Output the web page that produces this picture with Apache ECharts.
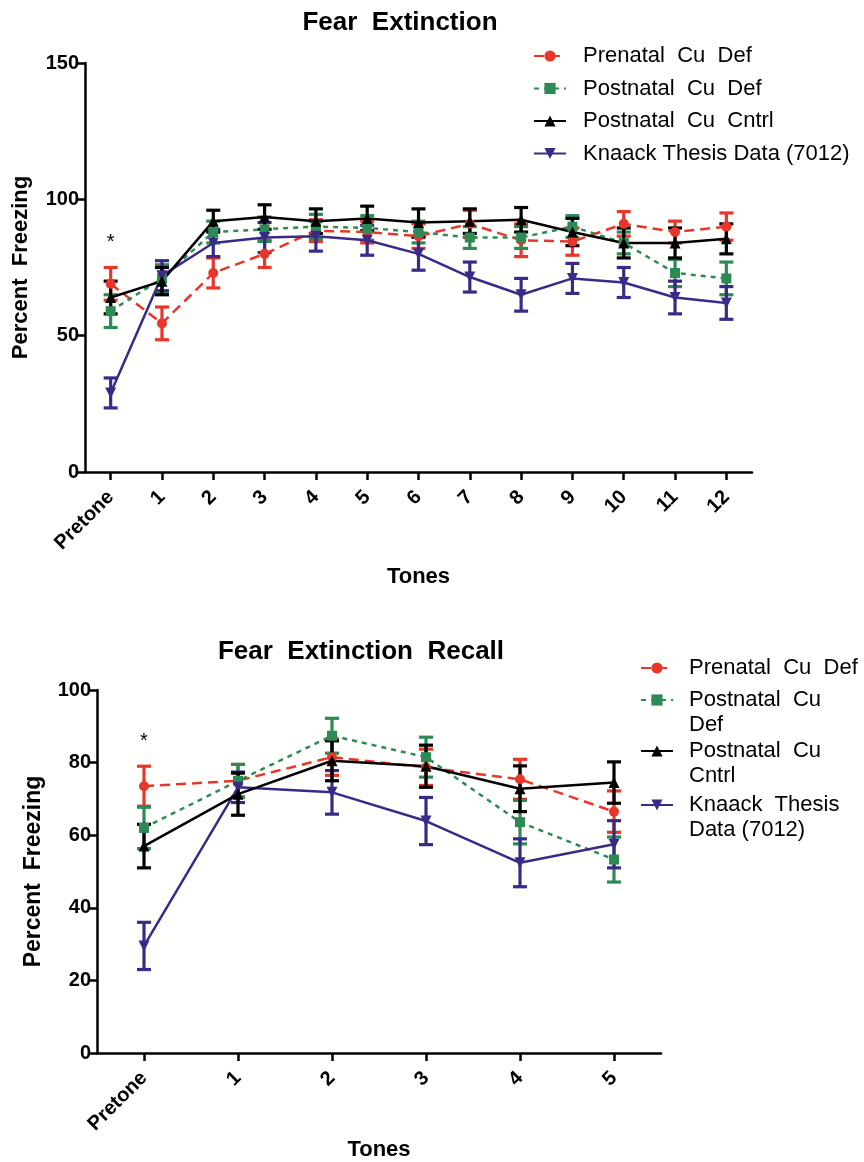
<!DOCTYPE html>
<html><head><meta charset="utf-8">
<script src="https://cdn.jsdelivr.net/npm/echarts@6/dist/echarts.min.js"></script>
<style>html,body{margin:0;padding:0;background:#fffffd}#c{width:864px;height:1162px}</style>
</head><body><div id="c"></div>
<script>
// ---------- data ----------
const topCategories = ['Pretone','1','2','3','4','5','6','7','8','9','10','11','12'];
const topYTicks = [0, 50, 100, 150];
const topPrenatal      = [69, 54.5, 73, 80, 88.5, 88, 86.5, 91, 85, 84.5, 91, 88, 90];
const topPrenatalErr   = [6, 6, 5.5, 5, 4, 4, 4.5, 5, 6, 5, 4.5, 4, 5];
const topPostDef       = [59, 71, 88, 89, 90, 89.5, 88, 86, 86, 90, 84, 73, 71];
const topPostDefErr    = [6, 5, 4, 4.5, 4.5, 4.5, 4, 4, 4, 4, 4, 5, 6];
const topPostCntrl     = [64, 70, 92, 93.5, 92, 93, 91.5, 92, 92.5, 88, 84, 84, 85.5];
const topPostCntrlErr  = [6, 5, 4, 4.5, 4.5, 4.5, 5, 4.5, 4.5, 5, 5.5, 5.5, 5.5];
const topKnaack        = [29, 72, 84, 86, 86.5, 85, 80, 71.5, 65, 71, 69.5, 64, 62];
const topKnaackErr     = [5.5, 5.5, 5, 5.5, 5.5, 5.5, 6, 5.5, 6, 5.5, 5.5, 6, 6];
const topStar = [0, 84];

const botCategories = ['Pretone','1','2','3','4','5'];
const botYTicks = [0, 20, 40, 60, 80, 100];
const botPrenatal      = [73.5, 75, 81.5, 78.7, 75.4, 66.5];
const botPrenatalErr   = [5.5, 4.5, 5, 5, 5.5, 5.7];
const botPostDef       = [62, 75, 87.4, 81.5, 63.6, 53.3];
const botPostDefErr    = [5.7, 4.5, 4.8, 5.5, 6, 6.2];
const botPostCntrl     = [57, 71.3, 80.5, 79, 72.8, 74.5];
const botPostCntrlErr  = [6, 5.8, 5.5, 5.8, 6.3, 5.7];
const botKnaack        = [29.5, 73.2, 71.8, 63.9, 52.4, 57.5];
const botKnaackErr     = [6.5, 4.2, 6, 6.5, 6.6, 6.5];
const botStar = [0, 85.7];

const topNames = ['Prenatal  Cu  Def', 'Postnatal  Cu  Def', 'Postnatal  Cu  Cntrl', 'Knaack Thesis Data (7012)'];
const botNames = ['Prenatal  Cu  Def', 'Postnatal  Cu\nDef', 'Postnatal  Cu\nCntrl', 'Knaack  Thesis\nData (7012)'];

// ---------- styles ----------
const RED = '#e8372a', GREEN = '#2e8a55', BLACK = '#000000', BLUE = '#3a2a88';
const FONT = '"Liberation Sans", Arial, sans-serif';
const INV_TRI = 'path://M0,0 L10,0 L5,9 Z';
const styles = [
  {color: RED,   symbol: 'circle',   size: 10, type: [10, 6]},
  {color: GREEN, symbol: 'rect',     size: 10, type: [5, 5]},
  {color: BLACK, symbol: 'triangle', size: 11, type: 'solid'},
  {color: BLUE,  symbol: INV_TRI,    size: 11, type: 'solid'}
];

function errRender(params, api) {
  const x = api.value(0), lo = api.value(1), hi = api.value(2);
  const p1 = api.coord([x, hi]), p2 = api.coord([x, lo]);
  const w = 7;
  const st = {stroke: api.visual('color'), lineWidth: 3.2};
  return {type: 'group', children: [
    {type: 'line', shape: {x1: p1[0], y1: p1[1], x2: p2[0], y2: p2[1]}, style: st},
    {type: 'line', shape: {x1: p1[0] - w, y1: p1[1], x2: p1[0] + w, y2: p1[1]}, style: st},
    {type: 'line', shape: {x1: p2[0] - w, y1: p2[1], x2: p2[0] + w, y2: p2[1]}, style: st}
  ]};
}
function starRender(params, api) {
  const p = api.coord([api.value(0), api.value(1)]);
  return {type: 'text', x: p[0], y: p[1],
    style: {text: '*', font: '20px ' + FONT, fill: '#000', align: 'center', verticalAlign: 'middle'}};
}

function buildSeries(idx, names, means, errs, star) {
  const out = [];
  const order = [0, 1, 3, 2];
  order.forEach(k => {
    const s = styles[k];
    out.push({
      type: 'custom', name: 'err' + idx + '_' + k, xAxisIndex: idx, yAxisIndex: idx,
      itemStyle: {color: s.color}, renderItem: errRender, silent: true,
      encode: {x: 0, y: [1, 2]}, z: 2,
      data: means[k].map((m, i) => [i, m - errs[k][i], m + errs[k][i]])
    });
  });
  order.forEach(k => {
    const s = styles[k];
    out.push({
      type: 'line', name: names[k], xAxisIndex: idx, yAxisIndex: idx,
      data: means[k], symbol: s.symbol, symbolSize: s.size, showSymbol: true,
      itemStyle: {color: s.color}, lineStyle: {color: s.color, width: 2.5, type: s.type},
      z: 3, animation: false
    });
  });
  out.push({type: 'custom', name: 'star' + idx, xAxisIndex: idx, yAxisIndex: idx,
    renderItem: starRender, encode: {x: 0, y: 1}, data: [star], z: 4, silent: true});
  return out;
}

const axisLine = {show: true, lineStyle: {color: '#000', width: 2.5}};
const axisTick = {show: true, length: 8, lineStyle: {color: '#000', width: 2.5}};

function xAxis(idx, cats, nameGap) {
  return {type: 'category', gridIndex: idx, data: cats, boundaryGap: true,
    axisLine, axisTick: Object.assign({alignWithLabel: true}, axisTick),
    axisLabel: {rotate: 45, fontSize: 20, fontWeight: 'bold', fontFamily: FONT, color: '#000', margin: 22, interval: 0},
    name: 'Tones', nameLocation: 'middle', nameGap: nameGap,
    nameTextStyle: {fontSize: 22, fontWeight: 'bold', fontFamily: FONT, color: '#000'},
    splitLine: {show: false}};
}
function yAxis(idx, ticks, nameGap, nameSize) {
  return {type: 'value', gridIndex: idx, min: ticks[0], max: ticks[ticks.length - 1],
    interval: ticks[1] - ticks[0], axisLine, axisTick,
    axisLabel: {fontSize: 20, fontWeight: 'bold', fontFamily: FONT, color: '#000', margin: 6},
    name: 'Percent  Freezing', nameLocation: 'middle', nameGap: nameGap,
    nameTextStyle: {fontSize: nameSize, fontWeight: 'bold', fontFamily: FONT, color: '#000'},
    splitLine: {show: false}};
}

const legendText = {fontSize: 22, fontFamily: FONT, color: '#000', lineHeight: 25, padding: [0, 0, 0, 11]};
const botLegendTops = [655.5, 662.5, 713.5, 767.5];
const botLegends = botNames.map((n, i) => ({
  orient: 'vertical', left: 640, top: botLegendTops[i], padding: 0, selectedMode: false,
  itemWidth: 32, itemHeight: 14, textStyle: legendText,
  formatter: nm => (nm.indexOf('\n') >= 0 ? ' \n' + nm : nm),
  data: [n]
}));

const option = {
  backgroundColor: '#fffffd',
  animation: false,
  title: [
    {text: 'Fear  Extinction', left: 395, top: 5, textAlign: 'center',
      textStyle: {fontSize: 26, fontWeight: 'bold', fontFamily: FONT, color: '#000'}},
    {text: 'Fear  Extinction  Recall', left: 356, top: 634, textAlign: 'center',
      textStyle: {fontSize: 26, fontWeight: 'bold', fontFamily: FONT, color: '#000'}}
  ],
  legend: [{
    orient: 'vertical', left: 533, top: 45, padding: 0, itemGap: 10.5, selectedMode: false,
    itemWidth: 32, itemHeight: 14,
    textStyle: {fontSize: 22, fontFamily: FONT, color: '#000', lineHeight: 22, padding: [0, 0, 0, 12]},
    data: topNames
  }].concat(botLegends),
  grid: [
    {left: 85, top: 63, width: 667, height: 409, outerBoundsMode: 'none', containLabel: false},
    {left: 97, top: 690, width: 564, height: 363, outerBoundsMode: 'none', containLabel: false}
  ],
  xAxis: [xAxis(0, topCategories, 94), xAxis(1, botCategories, 86)],
  yAxis: [yAxis(0, topYTicks, 53, 22), yAxis(1, botYTicks, 52, 23)],
  series: buildSeries(0, topNames,
      [topPrenatal, topPostDef, topPostCntrl, topKnaack],
      [topPrenatalErr, topPostDefErr, topPostCntrlErr, topKnaackErr], topStar)
    .concat(buildSeries(1, botNames,
      [botPrenatal, botPostDef, botPostCntrl, botKnaack],
      [botPrenatalErr, botPostDefErr, botPostCntrlErr, botKnaackErr], botStar))
};

const chart = echarts.init(document.getElementById('c'), null, {renderer: 'canvas'});
chart.setOption(option);
</script>
</body></html>
